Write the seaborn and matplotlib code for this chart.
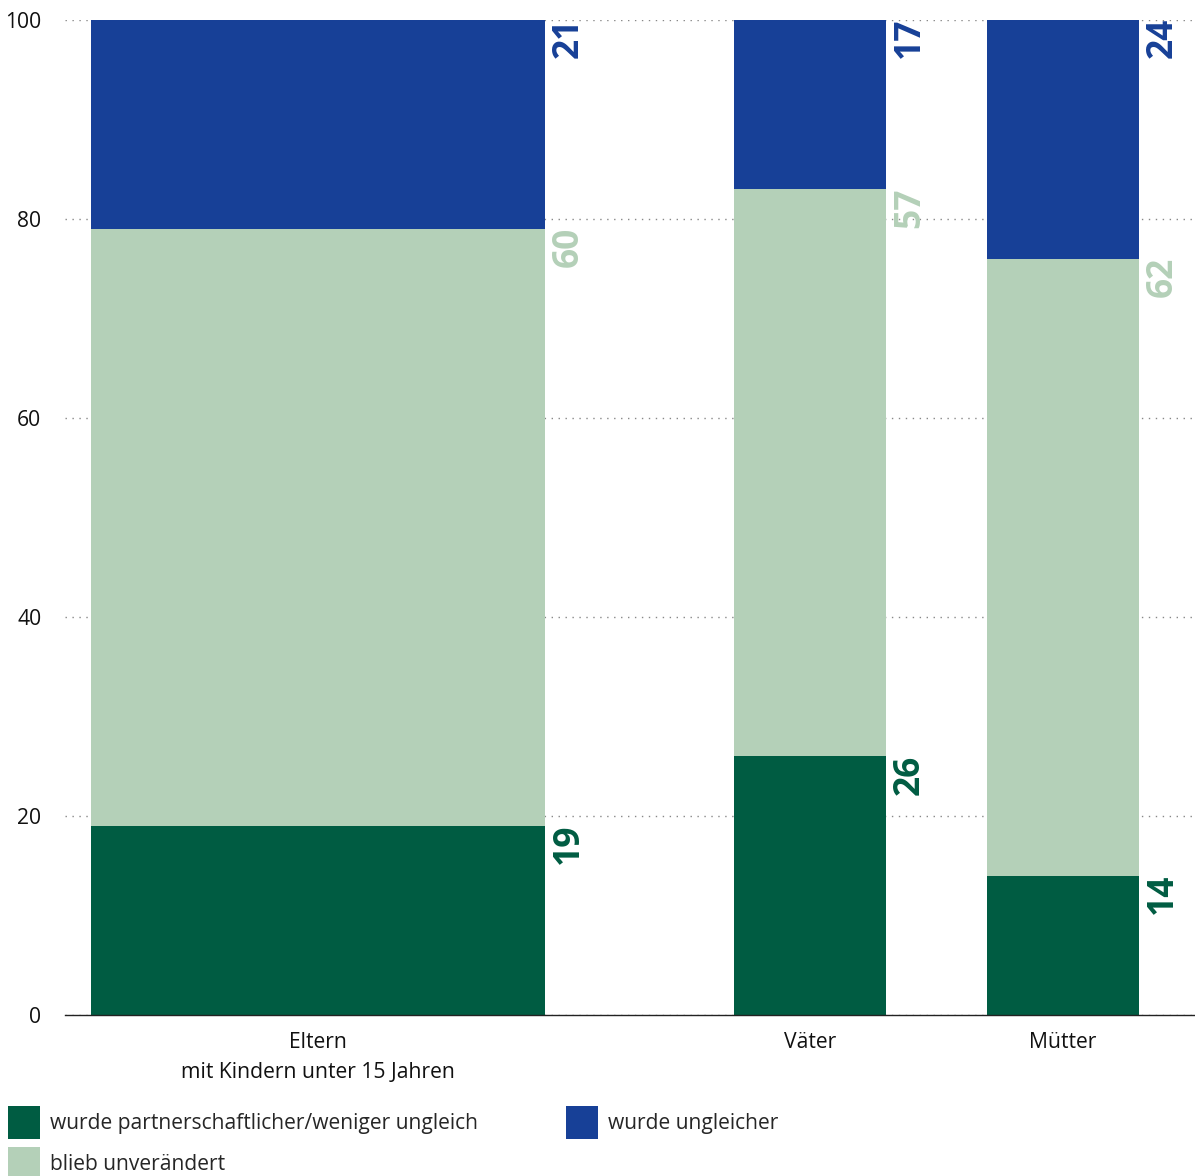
import numpy as np
import matplotlib
matplotlib.use("Agg")
import matplotlib.pyplot as plt
import matplotlib.transforms as mtransforms
from matplotlib.patches import Patch
import seaborn as sns

# data
groups = ["Eltern\nmit Kindern unter 15 Jahren", "Väter", "Mütter"]
series = ["wurde partnerschaftlicher/weniger ungleich", "blieb unverändert", "wurde ungleicher"]
partnerschaftlicher = [19, 26, 14]
unveraendert = [60, 57, 62]
ungleicher = [21, 17, 24]

# layout (x axis runs 0..1130)
centers = [253, 745, 998]
widths = [454, 152, 152]
colors = ["#005c42", "#b4d0b8", "#174097"]

sns.set_theme(style="white")
plt.rcParams["font.family"] = ["Open Sans", "DejaVu Sans"]

W, H = 1195, 1176
fig = plt.figure(figsize=(W / 100, H / 100), dpi=100)
ax = fig.add_axes([65 / W, (H - 1015) / H, (W - 65) / W, (1015 - 20) / H])

values = [partnerschaftlicher, unveraendert, ungleicher]
bottom = np.zeros(len(groups))
for vals, col in zip(values, colors):
    vals = np.array(vals, dtype=float)
    ax.bar(centers, vals, width=widths, bottom=bottom, color=col, linewidth=0, zorder=2)
    tops = bottom + vals
    for c, w, t, v in zip(centers, widths, tops, vals):
        trans = mtransforms.offset_copy(ax.transData, fig=fig, x=6, y=2, units="dots")
        ax.text(c + w / 2, t, f"{int(v)}", rotation=90, ha="left", va="top",
                color=col, fontsize=25.5, fontweight="bold", transform=trans, zorder=3)
    bottom = tops

ax.set_xlim(0, 1130)
ax.set_ylim(0, 100)
ax.set_yticks([0, 20, 40, 60, 80, 100])
ax.set_xticks(centers)
ax.set_xticklabels(groups, linespacing=1.6)
ax.tick_params(axis="both", length=0, labelsize=15.2, colors="#111111")
ax.tick_params(axis="y", pad=17)
ax.tick_params(axis="x", pad=12)
ax.yaxis.grid(True, color="#888888", linestyle=(0, (1, 4)), linewidth=1)
ax.set_axisbelow(True)
for s in ["top", "right", "left"]:
    ax.spines[s].set_visible(False)
ax.spines["bottom"].set_color("#222222")
ax.spines["bottom"].set_linewidth(1)

handles = [Patch(facecolor=c, edgecolor="none", label=l) for c, l in zip(colors, series)]
fig.legend(handles=handles, ncol=2, loc="upper left",
           bbox_to_anchor=(2 / W, (H - 1100) / H), frameon=False,
           fontsize=15.1, handlelength=1.5, handleheight=2.0,
           handletextpad=0.5, columnspacing=4.2, labelspacing=0.4,
           borderaxespad=0, borderpad=0.3)

fig.savefig("out.png", dpi=100)
